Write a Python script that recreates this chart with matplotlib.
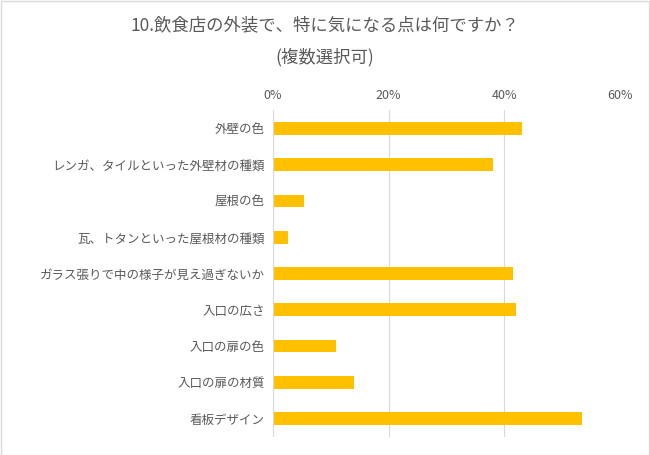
import matplotlib
matplotlib.use("Agg")
import matplotlib.pyplot as plt
from matplotlib.patches import Rectangle

plt.rcParams['font.family'] = 'Noto Sans CJK JP'

categories = ["外壁の色", "レンガ、タイルといった外壁材の種類", "屋根の色", "瓦、トタンといった屋根材の種類",
              "ガラス張りで中の様子が見え過ぎないか", "入口の広さ", "入口の扉の色", "入口の扉の材質", "看板デザイン"]
values = [43.1, 38.1, 5.4, 2.6, 41.5, 42.0, 10.9, 14.0, 53.5]
ticks = [0, 20, 40, 60]

fig = plt.figure(figsize=(6.5, 4.55), dpi=100)
ax = fig.add_axes([0.42, 0.04, 0.534, 0.718])
y = list(range(len(categories)))
ax.barh(y, values, height=0.35, color='#FFC000', zorder=3)
ax.set_ylim(len(categories) - 0.5, -0.5)
ax.set_xlim(0, 60)
ax.set_xticks(ticks)
ax.set_xticklabels([f"{t}%" for t in ticks], color='#595959', fontsize=9)
ax.xaxis.tick_top()
ax.set_yticks(y)
ax.set_yticklabels(categories, color='#595959', fontsize=9)
ax.tick_params(length=0, pad=6)
ax.grid(axis='x', color='#D9D9D9', lw=0.8, zorder=0)
for s in ax.spines.values():
    s.set_visible(False)
ax.axvline(0, color='#D9D9D9', lw=0.8, zorder=4)
fig.text(0.5, 0.945, "10.飲食店の外装で、特に気になる点は何ですか？", ha='center', va='center', fontsize=12.5, color='#595959')
fig.text(0.5, 0.875, "(複数選択可)", ha='center', va='center', fontsize=12.5, color='#595959')
fig.patches.append(Rectangle((0.001, 0.001), 0.997, 0.997, transform=fig.transFigure, fill=False, ec='#D9D9D9', lw=1))
fig.savefig("out.png", dpi=100)
